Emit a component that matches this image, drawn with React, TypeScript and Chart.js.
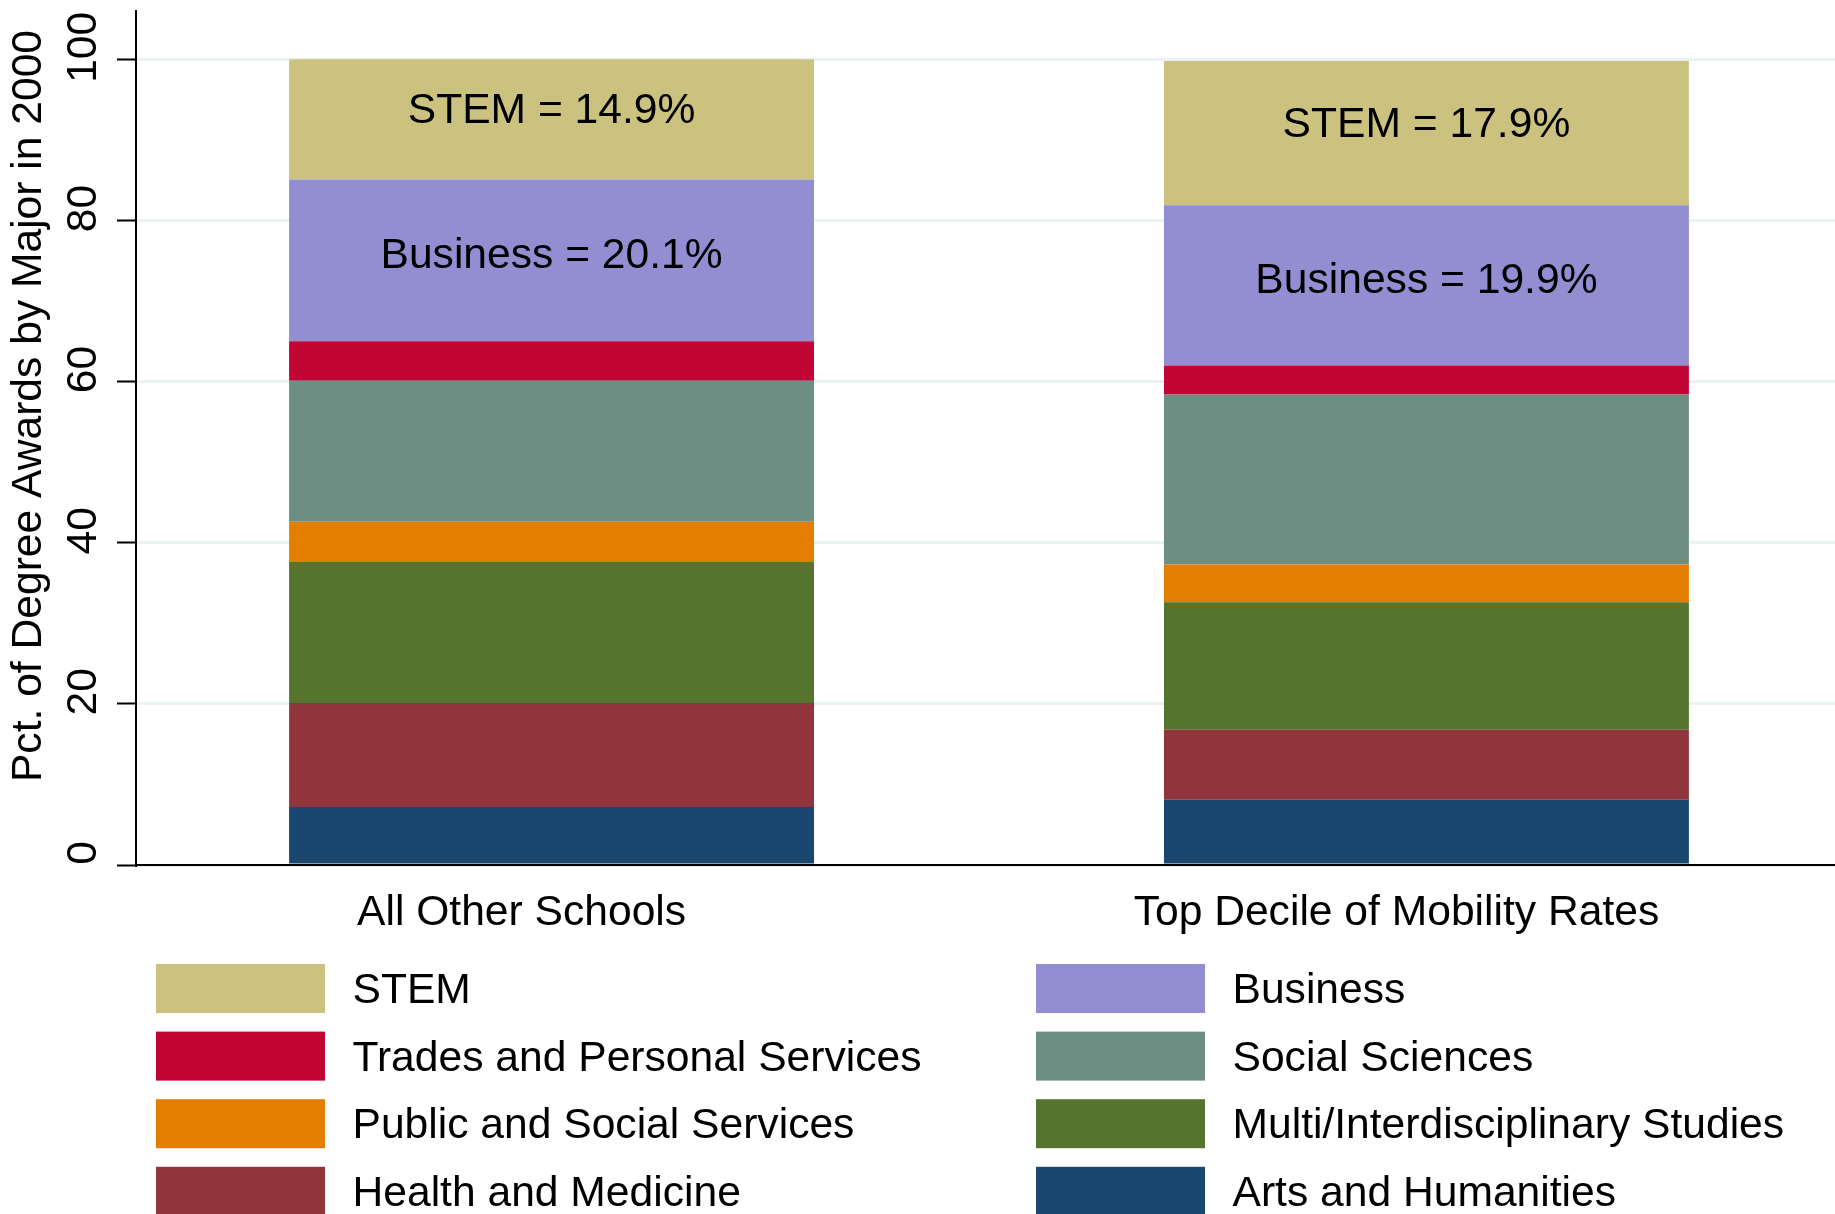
import { useEffect, useRef } from 'react';
import { Chart, registerables } from 'chart.js';

Chart.register(...registerables);

// ---- Data ----
const schoolGroups = ['All Other Schools', 'Top Decile of Mobility Rates'];

// stacking order, bottom to top
const majors = [
  'Arts and Humanities',
  'Health and Medicine',
  'Multi/Interdisciplinary Studies',
  'Public and Social Services',
  'Social Sciences',
  'Trades and Personal Services',
  'Business',
  'STEM',
];

const artsHumanities = [7.2, 8.1];
const healthMedicine = [12.9, 8.7];
const multiInterdisciplinary = [17.5, 15.8];
const publicSocialServices = [5.0, 4.7];
const socialSciences = [17.5, 21.1];
const tradesPersonal = [4.9, 3.6];
const business = [20.1, 19.9];
const stem = [14.9, 17.9];

const yTicks = [0, 20, 40, 60, 80, 100];
const yTitle = 'Pct. of Degree Awards by Major in 2000';
const labelledMajors = ['STEM', 'Business'];

const seriesValues = [
  artsHumanities,
  healthMedicine,
  multiInterdisciplinary,
  publicSocialServices,
  socialSciences,
  tradesPersonal,
  business,
  stem,
];

const colors = ['#1A476F', '#90353B', '#55752F', '#E37E00', '#6E8E84', '#C10534', '#938DD2', '#CAC27E'];

const FONT = "'Liberation Sans', Arial, Helvetica, sans-serif";
const FONT_SIZE = 42.6;
// small vertical nudge (px) of the in-bar labels, per labelled series
const labelNudge: Record<string, number> = { STEM: -8, Business: -4.5 };

const overlayPlugin = {
  id: 'overlay',
  afterDraw(chart: any) {
    const ctx: CanvasRenderingContext2D = chart.ctx;
    ctx.save();
    ctx.fillStyle = '#000';
    ctx.font = `${FONT_SIZE}px ${FONT}`;

    // y-axis title
    ctx.save();
    ctx.translate(29, 406);
    ctx.rotate(-Math.PI / 2);
    ctx.textAlign = 'center';
    ctx.textBaseline = 'middle';
    ctx.fillText(yTitle, 0, 0);
    ctx.restore();

    // labels inside STEM / Business segments
    chart.data.datasets.forEach((ds: any, di: number) => {
      if (!labelledMajors.includes(ds.label)) return;
      const meta = chart.getDatasetMeta(di);
      meta.data.forEach((el: any, j: number) => {
        const { x, y, base } = el.getProps(['x', 'y', 'base'], true);
        const v = seriesValues[di][j];
        ctx.textAlign = 'center';
        ctx.textBaseline = 'middle';
        ctx.fillText(`${ds.label} = ${v.toFixed(1)}%`, x, (y + base) / 2 + (labelNudge[ds.label] ?? 0));
      });
    });

    // legend: two columns, row-major in top-to-bottom stack order
    const order = chart.data.datasets.map((_: any, i: number) => i).reverse();
    const colX = [156, 1036];
    const top0 = 964;
    const rowStep = 67.6;
    const boxW = 169;
    const boxH = 49;
    order.forEach((di: number, k: number) => {
      const ds = chart.data.datasets[di];
      const col = k % 2;
      const row = Math.floor(k / 2);
      const x0 = colX[col];
      const y0 = top0 + row * rowStep;
      ctx.fillStyle = ds.backgroundColor;
      ctx.fillRect(x0, y0, boxW, boxH);
      ctx.fillStyle = '#000';
      ctx.textAlign = 'left';
      ctx.textBaseline = 'middle';
      ctx.fillText(ds.label, x0 + 196.5, y0 + 27.5);
    });
    ctx.restore();
  },
};

export default function App() {
  const ref = useRef<HTMLCanvasElement>(null);

  useEffect(() => {
    const canvas = ref.current;
    if (!canvas) return;
    const chart = new Chart(canvas, {
      type: 'bar',
      data: {
        datasets: majors.map((m, i) => ({
          label: m,
          data: seriesValues[i].map((v, j) => ({ x: j, y: v })),
          backgroundColor: colors[i],
          borderWidth: 0,
          categoryPercentage: 0.6,
          barPercentage: 1.0,
        })),
      },
      options: {
        responsive: false,
        animation: false,
        devicePixelRatio: 1,
        layout: { padding: { top: 11, left: 0, right: 0, bottom: 0 } },
        plugins: {
          legend: { display: false },
          tooltip: { enabled: false },
          title: { display: false },
        },
        scales: {
          x: {
            type: 'linear',
            stacked: true,
            offset: false,
            min: -0.475,
            max: 1.467,
            grid: { display: false, drawTicks: false },
            border: { display: true, color: '#000', width: 2, z: 1 },
            afterBuildTicks: (s: any) => {
              s.ticks = schoolGroups.map((_, i) => ({ value: i }));
            },
            afterFit: (s: any) => {
              s.height = 349;
              s.paddingLeft = 0;
              s.paddingRight = 0;
            },
            ticks: {
              autoSkip: false,
              maxRotation: 0,
              minRotation: 0,
              padding: 23,
              labelOffset: -30,
              color: '#000',
              font: { family: FONT, size: FONT_SIZE },
              callback: (v: any) => schoolGroups[Math.round(Number(v))] ?? '',
            },
          },
          y: {
            type: 'linear',
            stacked: true,
            min: 0,
            max: 106,
            afterBuildTicks: (s: any) => {
              s.ticks = yTicks.map((v) => ({ value: v }));
            },
            afterFit: (s: any) => {
              s.width = 136;
              s.paddingTop = 0;
              s.paddingBottom = 0;
            },
            grid: {
              color: '#EAF2F3',
              lineWidth: 3,
              drawTicks: true,
              tickLength: 19,
              tickColor: '#000',
              tickWidth: 2,
            },
            border: { display: true, color: '#000', width: 2, z: 1 },
            ticks: {
              autoSkip: false,
              minRotation: 90,
              maxRotation: 90,
              crossAlign: 'center',
              padding: -2.5,
              labelOffset: -12,
              color: '#000',
              font: { family: FONT, size: FONT_SIZE },
            },
          },
        },
      },
      plugins: [overlayPlugin],
    } as any);
    return () => chart.destroy();
  }, []);

  return (
    <div style={{ position: 'absolute', left: 0, top: 0, width: 1835, height: 1214, background: '#fff' }}>
      <canvas ref={ref} width={1835} height={1214} style={{ display: 'block' }} />
    </div>
  );
}
